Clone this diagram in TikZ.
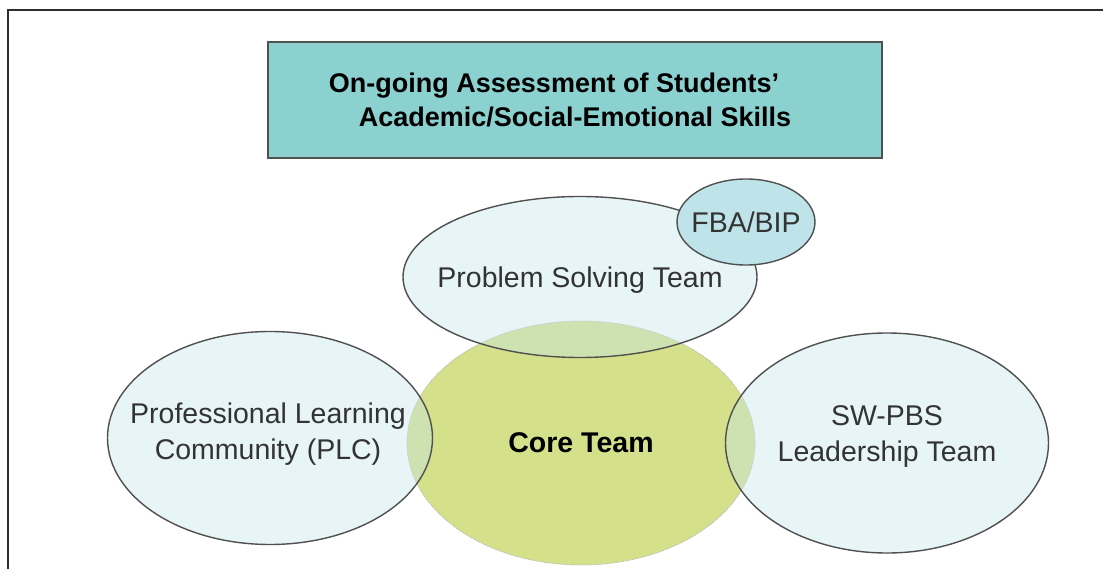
\documentclass[tikz,border=0pt]{standalone}
\usepackage{fontspec}
\setmainfont{Liberation Sans}
\usetikzlibrary{shapes.geometric}
\definecolor{titlefill}{RGB}{139,209,208}
\definecolor{edge}{RGB}{80,80,80}
\definecolor{lightblue}{RGB}{197,231,236}
\definecolor{fbafill}{RGB}{190,227,232}
\definecolor{coregreen}{RGB}{212,224,138}
\definecolor{framecol}{RGB}{45,45,45}
\tikzset{
  team/.style={ellipse, draw=edge, line width=1.4pt, fill=lightblue, fill opacity=0.4, text opacity=1, inner sep=0pt},
  lbl/.style={font=\fontsize{28.5}{36}\selectfont, text=black!80, align=center},
  corestyle/.style={ellipse, draw=black!30, densely dotted, line width=0.8pt, fill=coregreen, inner sep=0pt, font=\bfseries\fontsize{28.5}{36}\selectfont},
  titlebox/.style={draw=edge, line width=1.6pt, fill=titlefill, align=center, font=\bfseries\fontsize{27}{34}\selectfont, inner sep=0pt}
}
\begin{document}
\begin{tikzpicture}[x=1pt,y=-1pt]
\useasboundingbox (0,0) rectangle (1103,569);
\fill[white] (0,0) rectangle (1103,569);
\coordinate (fbl) at (8,569);
\coordinate (ftl) at (8,10);
\coordinate (ftr) at (1103,10);
\draw[framecol, line width=2.5pt] (fbl) -- (ftl) -- (ftr);
\node[titlebox, minimum width=614pt, minimum height=116pt] (title) at (575,100)
  {\hspace*{-42pt}On-going Assessment\ of Students'\\Academic/Social-Emotional\ Skills};
\node[corestyle, minimum width=348pt, minimum height=244pt] (core) at (581,443) {Core Team};
\node[team, minimum width=354pt, minimum height=161pt] (pst) at (580,277) {};
\node[team, minimum width=325pt, minimum height=213pt] (plc) at (270,438) {};
\node[team, minimum width=323pt, minimum height=220pt] (sw) at (887,443) {};
\node[ellipse, draw=edge, line width=1.4pt, fill=fbafill, inner sep=0pt, minimum width=138pt, minimum height=86pt] (fba) at (746,222) {};
\node[lbl] (fbal) at (fba.center) {FBA/BIP};
\node[lbl] (pstl) at (580,280) {Problem Solving Team};
\node[lbl] (plcl) at (268,434) {Professional Learning\\Community (PLC)};
\node[lbl] (swl) at (887,437) {SW-PBS\\Leadership Team};
\end{tikzpicture}
\end{document}
